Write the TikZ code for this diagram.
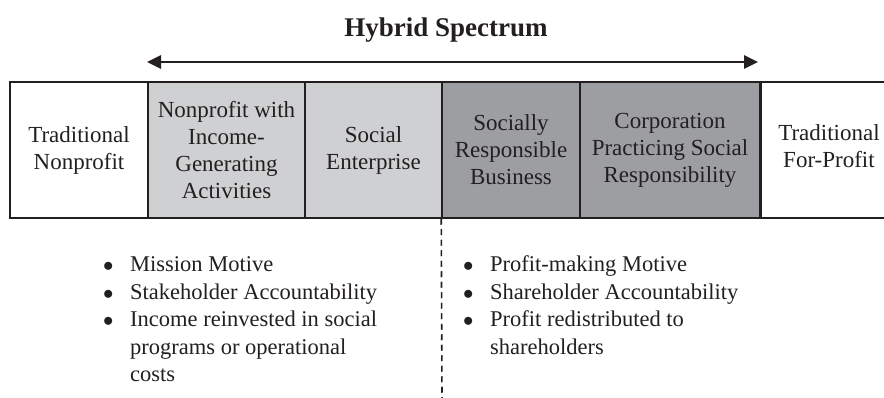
\documentclass[tikz,border=0pt]{standalone}
\usepackage{fontspec}
\setmainfont{Liberation Serif}
\usetikzlibrary{arrows.meta}
\definecolor{ink}{HTML}{231F20}
\definecolor{lightg}{HTML}{CFD0D2}
\definecolor{darkg}{HTML}{9D9EA1}
\newcommand{\blt}{$\bullet$}
\tikzset{
  col/.style={draw=ink, line width=1.5pt, minimum height=136pt, align=center, text=ink,
    font=\fontsize{23}{27}\selectfont, inner sep=0pt},
  listtext/.style={anchor=base west, inner sep=0pt, text=ink, align=left,
    font=\fontsize{22.5}{27.5}\selectfont},
}
\begin{document}
\begin{tikzpicture}[x=1pt,y=-1pt]
\useasboundingbox (0,0) rectangle (884,398);
\node[text=ink, font=\fontsize{27}{30}\selectfont\bfseries] (title) at (446,30) {Hybrid Spectrum};
\coordinate (al) at (147,62);
\coordinate (ar) at (758,62);
\draw[ink, line width=2.8pt, {Triangle[length=14pt,width=13pt]}-{Triangle[length=14pt,width=13pt]}] (al) -- (ar);
\node[col, fill=white, minimum width=138pt] (c1) at (79,150) {Traditional\\Nonprofit};
\node[col, fill=lightg, minimum width=157pt] (c2) at (226.5,150) {Nonprofit with\\Income-\\Generating\\Activities};
\node[col, fill=lightg, minimum width=137pt] (c3) at (373.5,150) {Social\\Enterprise};
\node[col, fill=darkg, minimum width=138pt] (c4) at (511,150) {Socially\\Responsible\\Business};
\node[col, fill=darkg, minimum width=180pt] (c5) at (670,150) {Corporation\\Practicing Social\\Responsibility};
\node[col, fill=white, minimum width=140pt, anchor=west] (c6) at (760,150) {};
\node[text=ink, align=center, font=\fontsize{23}{27}\selectfont, inner sep=0pt] (c6t) at (829,146) {Traditional\\For-Profit};
\coordinate (dend) at (442,398);
\draw[ink, line width=1.6pt, dash pattern=on 6pt off 4.5pt] (c4.south west) -- (dend);
\node[listtext] (left) at (103,272) {\begin{tabular}[t]{@{}p{27pt}@{}l@{}}
\blt & Mission Motive\\
\blt & Stakeholder Accountability\\
\blt & Income reinvested in social\\
 & programs or operational\\
 & costs
\end{tabular}};
\node[listtext] (right) at (463,272) {\begin{tabular}[t]{@{}p{27pt}@{}l@{}}
\blt & Profit-making Motive\\
\blt & Shareholder Accountability\\
\blt & Profit redistributed to\\
 & shareholders
\end{tabular}};
\end{tikzpicture}
\end{document}
